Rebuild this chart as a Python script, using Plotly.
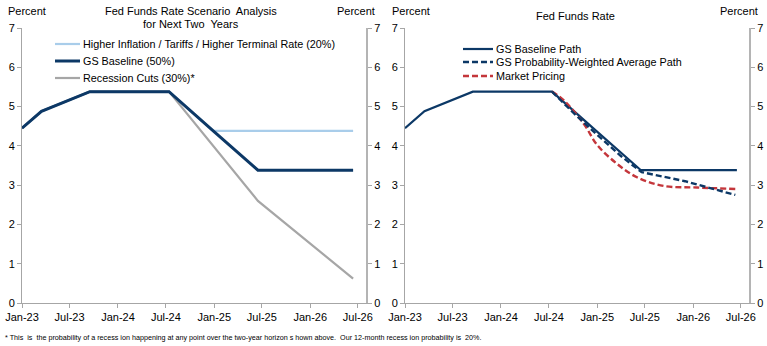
import plotly.graph_objects as go

# ---------------- data ----------------
base_dates = ["2023-01-01", "2023-03-16", "2023-09-16", "2024-07-13",
              "2024-12-28", "2025-06-16", "2026-06-13"]
baseline_vals = [4.45, 4.88, 5.38, 5.38, 4.38, 3.38, 3.38]

hi_dates = ["2023-01-01", "2023-03-16", "2023-09-16", "2024-07-13",
            "2024-12-28", "2026-06-13"]
hi_vals = [4.45, 4.88, 5.38, 5.38, 4.38, 4.38]

rec_dates = ["2023-01-01", "2023-03-16", "2023-09-16", "2024-07-13",
             "2025-06-16", "2026-06-13"]
rec_vals = [4.45, 4.88, 5.38, 5.38, 2.60, 0.62]

r_base_dates = ["2023-01-01", "2023-03-16", "2023-09-16", "2024-07-13",
                "2024-12-28", "2025-06-16", "2026-06-16"]
r_base_vals = [4.45, 4.88, 5.38, 5.38, 4.38, 3.38, 3.38]

pw_dates = ["2024-07-13", "2024-10-01", "2025-01-01", "2025-04-01",
            "2025-06-19", "2025-12-01", "2026-06-10"]
pw_vals = [5.38, 4.85, 4.28, 3.74, 3.33, 3.10, 2.75]

mkt_dates = ["2024-07-13", "2024-08-25", "2024-11-10", "2025-01-01",
             "2025-03-16", "2025-06-01", "2025-09-10", "2026-01-16", "2026-06-16"]
mkt_vals = [5.38, 5.17, 4.57, 4.02, 3.55, 3.20, 2.98, 2.94, 2.90]

tick_dates = ["2023-01-01", "2023-07-01", "2024-01-01", "2024-07-01",
              "2025-01-01", "2025-07-01", "2026-01-01", "2026-07-01"]
tick_labels = ["Jan-23", "Jul-23", "Jan-24", "Jul-24",
               "Jan-25", "Jul-25", "Jan-26", "Jul-26"]
y_ticks = [0, 1, 2, 3, 4, 5, 6, 7]

# ---------------- styles ----------------
W, H = 767, 346
NAVY = "#0c3866"
LBLUE = "#a9cdea"
GRAY = "#a6a6a6"
RED = "#c4363b"
AXC = "#a6a6a6"
FONT = "Liberation Sans"


def px(x):
    return x / W


def py(y):
    return 1 - y / H


fig = go.Figure()

# left panel
fig.add_trace(go.Scatter(x=hi_dates, y=hi_vals, mode="lines",
                         line=dict(color=LBLUE, width=2.2), xaxis="x", yaxis="y",
                         showlegend=False))
fig.add_trace(go.Scatter(x=rec_dates, y=rec_vals, mode="lines",
                         line=dict(color=GRAY, width=2.2), xaxis="x", yaxis="y",
                         showlegend=False))
fig.add_trace(go.Scatter(x=base_dates, y=baseline_vals, mode="lines",
                         line=dict(color=NAVY, width=3), xaxis="x", yaxis="y",
                         showlegend=False))
# right panel
fig.add_trace(go.Scatter(x=r_base_dates, y=r_base_vals, mode="lines",
                         line=dict(color=NAVY, width=2.2), xaxis="x2", yaxis="y3",
                         showlegend=False))
fig.add_trace(go.Scatter(x=mkt_dates, y=mkt_vals, mode="lines",
                         line=dict(color=RED, width=2.4, dash="6px,3px", shape="spline"),
                         xaxis="x2", yaxis="y3", showlegend=False))
fig.add_trace(go.Scatter(x=pw_dates, y=pw_vals, mode="lines",
                         line=dict(color=NAVY, width=2.4, dash="6px,3px"),
                         xaxis="x2", yaxis="y3", showlegend=False))
# dummy traces so the right axes render
fig.add_trace(go.Scatter(x=[None], y=[None], xaxis="x", yaxis="y2", showlegend=False))
fig.add_trace(go.Scatter(x=[None], y=[None], xaxis="x2", yaxis="y4", showlegend=False))

ydom = [py(303), py(28)]
xrange_ = ["2023-01-01", "2026-08-01"]

xcommon = dict(type="date", range=xrange_, tickvals=tick_dates, ticktext=tick_labels,
               ticks="outside", ticklen=4, tickcolor=AXC, showline=True, linecolor=AXC,
               linewidth=1, showgrid=False, zeroline=False, automargin=False,
               tickfont=dict(family=FONT, size=11, color="#000000"))
ycommon = dict(range=[0, 7], tickvals=y_ticks, ticks="outside", ticklen=4, tickcolor=AXC,
               showline=True, showgrid=False, zeroline=False, automargin=False,
               tickfont=dict(family=FONT, size=11, color="#000000"), domain=ydom)

fig.update_layout(
    width=W, height=H, autosize=False,
    margin=dict(l=0, r=0, t=0, b=0, pad=0, autoexpand=False),
    paper_bgcolor="white", plot_bgcolor="white",
    showlegend=False,
    xaxis=dict(domain=[px(22), px(366)], anchor="y", **xcommon),
    xaxis2=dict(domain=[px(405), px(749)], anchor="y3", **xcommon),
    yaxis=dict(anchor="x", side="left", linecolor=AXC, linewidth=1, **ycommon),
    yaxis2=dict(anchor="x", side="right", overlaying="y", linecolor="#b4b4b4",
                linewidth=2, **ycommon),
    yaxis3=dict(anchor="x2", side="left", linecolor=AXC, linewidth=1, **ycommon),
    yaxis4=dict(anchor="x2", side="right", overlaying="y3", linecolor="#b4b4b4",
                linewidth=2, **ycommon),
)

anns = []


def txt(x, y, s, size=11, anchor="center"):
    anns.append(dict(x=px(x), y=py(y), xref="paper", yref="paper", text=s,
                     showarrow=False, xanchor=anchor, yanchor="middle",
                     font=dict(family=FONT, size=size, color="#000000")))


txt(27, 11, "Percent")
txt(356, 11, "Percent")
txt(411, 11, "Percent")
txt(739, 11, "Percent")
txt(191, 11, "Fed Funds Rate Scenario  Analysis")
txt(191, 24, "for Next Two  Years")
txt(575, 16, "Fed Funds Rate")

# manual legends
shapes = []


def leg(x0, x1, y, color, width, label, dash="solid"):
    shapes.append(dict(type="line", xref="paper", yref="paper", x0=px(x0), x1=px(x1),
                       y0=py(y), y1=py(y), line=dict(color=color, width=width, dash=dash)))
    txt(x1 + 1, y, label, size=10.8, anchor="left")


leg(55, 80, 44, LBLUE, 2.2, "Higher Inflation / Tariffs / Higher Terminal Rate (20%)")
leg(55, 80, 61, NAVY, 3, "GS Baseline (50%)")
leg(55, 80, 78, GRAY, 2.2, "Recession Cuts (30%)*")
leg(463, 493, 49, NAVY, 2.2, "GS Baseline Path")
leg(463, 493, 62, NAVY, 2.4, "GS Probability-Weighted Average Path", dash="6px,3px")
leg(463, 493, 76, RED, 2.4, "Market Pricing", dash="6px,3px")

anns.append(dict(x=px(3), y=py(337), xref="paper", yref="paper",
                 text="* This  is  the probability of a recess ion happening at any point over the two-year horizon s hown above.  Our 12-month recess ion probability is  20%.",
                 showarrow=False, xanchor="left", yanchor="middle",
                 font=dict(family=FONT, size=7.2, color="#000000")))

fig.update_layout(annotations=anns, shapes=shapes)
fig.write_html("out.html",
               post_script="document.body.style.margin='0';document.body.style.overflow='hidden';")
